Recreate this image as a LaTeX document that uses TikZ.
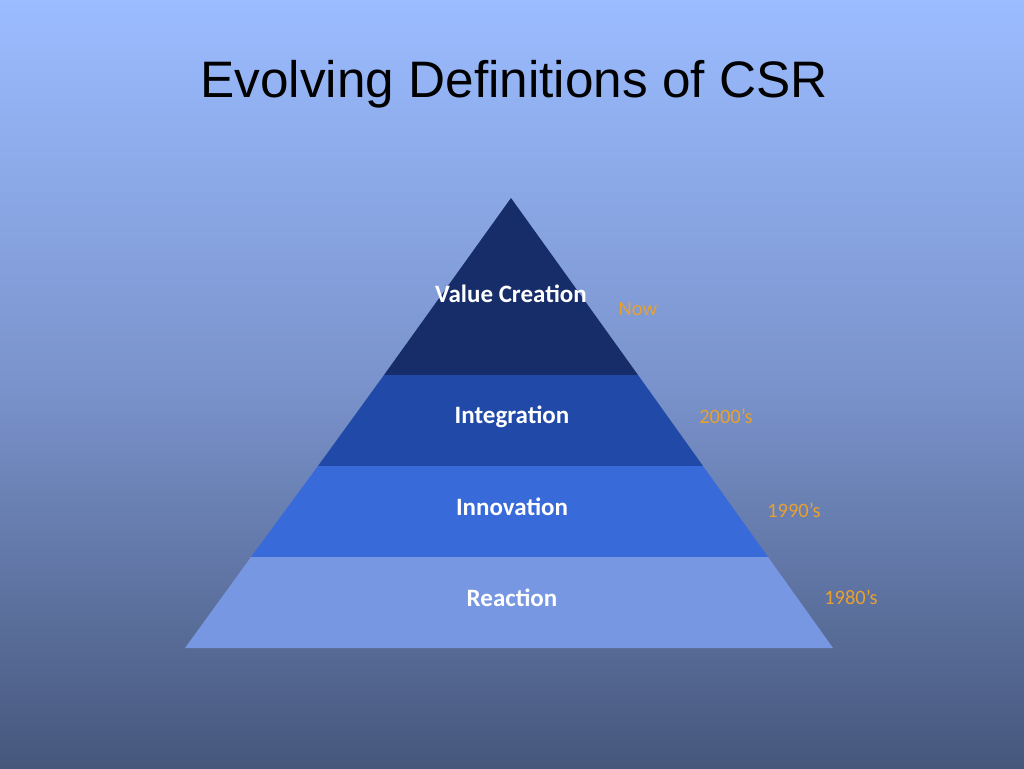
\documentclass[tikz,border=0pt]{standalone}
\usepackage{fontspec}
\setmainfont{Liberation Sans}
\newfontfamily\calfont{Carlito}
\definecolor{bgtop}{HTML}{9BBCFF}
\definecolor{bgmid}{HTML}{7A93CC}
\definecolor{bgbot}{HTML}{46577C}
\definecolor{layA}{HTML}{172D6A}
\definecolor{layB}{HTML}{2149A8}
\definecolor{layC}{HTML}{386AD9}
\definecolor{layD}{HTML}{7897E2}
\definecolor{yearc}{HTML}{E8A030}
\tikzset{
  lab/.style={font=\calfont\bfseries\fontsize{25}{30}\selectfont, text=white, inner sep=0pt},
  year/.style={font=\calfont\fontsize{20.5}{24}\selectfont, text=yearc, inner sep=0pt},
}
\begin{document}
\begin{tikzpicture}[x=1pt,y=-1pt]
\useasboundingbox (0,0) rectangle (1024,768);
\shade[top color=bgtop, bottom color=bgbot, middle color=bgmid] (0,0) rectangle (1024,768);
\node[font=\fontsize{51.3}{60}\selectfont, inner sep=0pt] (title) at (514,84) {Evolving Definitions of CSR};
% pyramid coordinates
\coordinate (apex) at (511,198);
\coordinate (l1) at (384,375); \coordinate (r1) at (638,375);
\coordinate (l2) at (318,466); \coordinate (r2) at (703,466);
\coordinate (l3) at (251,557); \coordinate (r3) at (768,557);
\coordinate (l4) at (185,648); \coordinate (r4) at (833,648);
\fill[layA] (apex) -- (r1) -- (l1) -- cycle;
\fill[layB] (l1) -- (r1) -- (r2) -- (l2) -- cycle;
\fill[layC] (l2) -- (r2) -- (r3) -- (l3) -- cycle;
\fill[layD] (l3) -- (r3) -- (r4) -- (l4) -- cycle;
\node[lab] (vc) at (511,294) {Value Creation};
\node[lab] (int) at (512,417) {Integration};
\node[lab] (inn) at (512,507) {Innovation};
\node[lab] (rea) at (512,598) {Reaction};
\node[year] (now) at (638,309) {Now};
\node[year] (y2000) at (726,416) {2000’s};
\node[year] (y1990) at (794,510) {1990’s};
\node[year] (y1980) at (851,597) {1980’s};
\end{tikzpicture}
\end{document}
